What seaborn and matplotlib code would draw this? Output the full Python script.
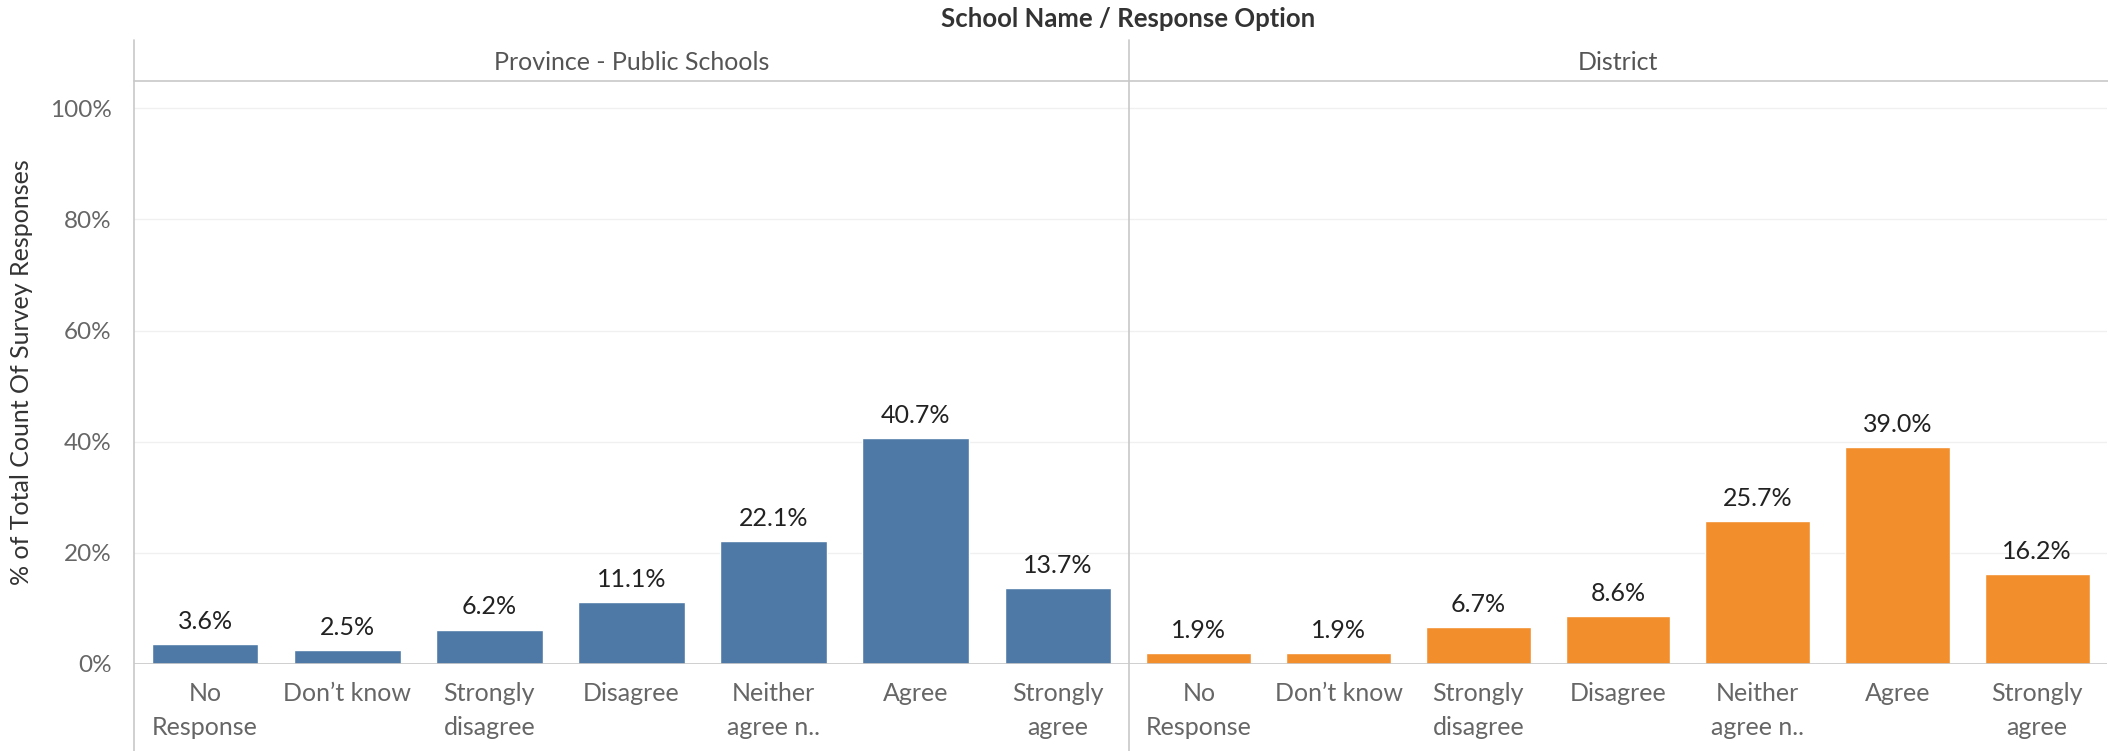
import matplotlib
matplotlib.use("Agg")
import matplotlib.pyplot as plt
from matplotlib.lines import Line2D
import seaborn as sns

# Data
categories = ["No\nResponse", "Don\u2019t know", "Strongly\ndisagree", "Disagree",
              "Neither\nagree n..", "Agree", "Strongly\nagree"]
province = [3.6, 2.5, 6.2, 11.1, 22.1, 40.7, 13.7]
district = [1.9, 1.9, 6.7, 8.6, 25.7, 39.0, 16.2]
panels = ["Province - Public Schools", "District"]
colors = ["#4e79a7", "#f28e2b"]
yticks = [0, 20, 40, 60, 80, 100]

sns.set_style("white")
plt.rcParams['font.family'] = ['Lato', 'DejaVu Sans']

W, H = 2108, 751
fig = plt.figure(figsize=(W / 100, H / 100), dpi=100)

x_left, x_mid, x_right = 134, 1129, 2107
y_top_hdr, y_hdr, y_base = 40, 81, 664
line_col = "#c8c8c8"
fs = 18

def fx(px):
    return px / W

def fy(py):
    return 1 - py / H

axes = []
for i, (vals, name, col) in enumerate(zip([province, district], panels, colors)):
    l = x_left if i == 0 else x_mid
    r = x_mid if i == 0 else x_right
    ax = fig.add_axes([fx(l), fy(y_base), fx(r - l), fy(y_hdr) - fy(y_base)])
    sns.barplot(x=categories, y=vals, color=col, saturation=1, width=0.75, ax=ax)
    ax.set_ylim(0, 104.9)
    ax.set_xlim(-0.5, 6.5)
    ax.set_yticks(yticks)
    ax.yaxis.grid(True, color="#f0f0f0", linewidth=1)
    ax.set_axisbelow(True)
    for s in ax.spines.values():
        s.set_visible(False)
    ax.tick_params(axis="both", length=0)
    ax.tick_params(axis="x", labelsize=fs, labelcolor="#666666", pad=13)
    for t in ax.get_xticklabels():
        t.set_linespacing(1.55)
        t.set_verticalalignment("top")
    if i == 0:
        ax.set_yticklabels([f"{v}%" for v in yticks])
        ax.tick_params(axis="y", labelsize=17.5, labelcolor="#666666", pad=16)
        ax.set_ylabel("% of Total Count Of Survey Responses", fontsize=fs,
                      color="#333333", labelpad=12)
    else:
        ax.set_yticklabels([])
        ax.set_ylabel("")
    ax.bar_label(ax.containers[0], labels=[f"{v:.1f}%" for v in vals],
                 fontsize=fs, color="#222222", padding=8)
    ax.axhline(0, color=line_col, linewidth=1.2)
    fig.text(fx((l + r) / 2), fy(62), name, ha="center", va="center",
             fontsize=fs, color="#555555")
    axes.append(ax)

# frame lines of the header / panels
fig.add_artist(Line2D([fx(x_left), fx(x_left)], [fy(y_top_hdr), 0], color=line_col, lw=1.2))
fig.add_artist(Line2D([fx(x_mid), fx(x_mid)], [fy(y_top_hdr), 0], color=line_col, lw=1.2))
fig.add_artist(Line2D([fx(x_left), 1], [fy(y_hdr), fy(y_hdr)], color=line_col, lw=1.2))

fig.text(fx(1128), fy(19), "School Name / Response Option", ha="center", va="center",
         fontsize=18.5, fontweight="bold", color="#333333")

fig.savefig("out.png", dpi=100, facecolor="white")
